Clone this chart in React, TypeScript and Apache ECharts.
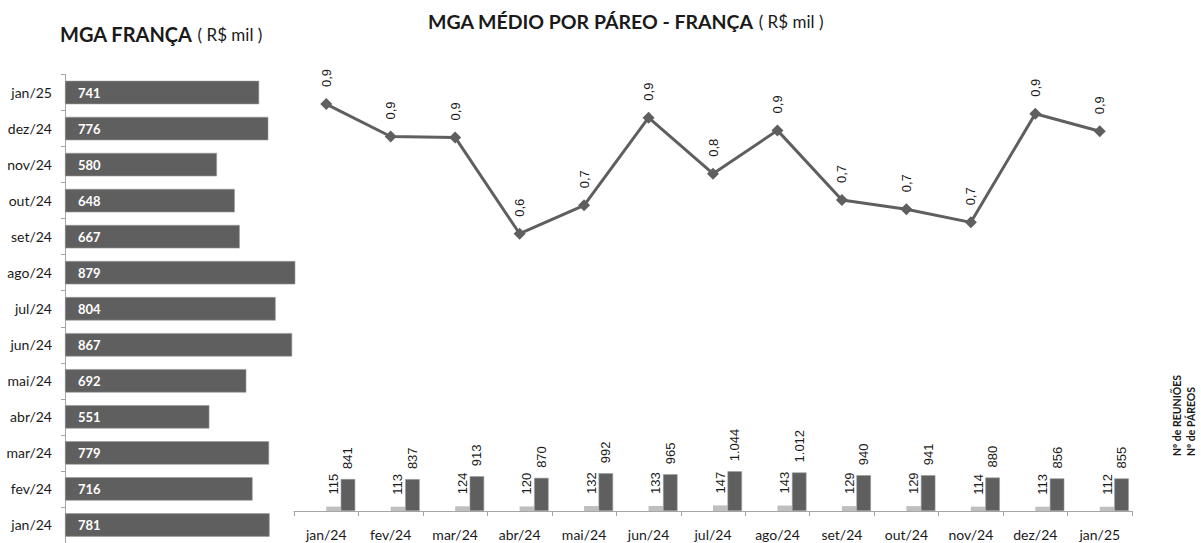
import React, { useEffect, useRef } from "react";
import * as echarts from "echarts";

const months = ["jan/24", "fev/24", "mar/24", "abr/24", "mai/24", "jun/24", "jul/24", "ago/24", "set/24", "out/24", "nov/24", "dez/24", "jan/25"];
const mgaTotal = [781, 716, 779, 551, 692, 867, 804, 879, 667, 648, 580, 776, 741];
const mgaMedio = [0.929, 0.855, 0.853, 0.633, 0.698, 0.898, 0.77, 0.869, 0.71, 0.689, 0.659, 0.907, 0.867];
const reunioes = [115, 113, 124, 120, 132, 133, 147, 143, 129, 129, 114, 113, 112];
const pareos = [841, 837, 913, 870, 992, 965, 1044, 1012, 940, 941, 880, 856, 855];

const FONT = "Lato";
const DARK = "#5f5f5f";
const LIGHT = "#bfbfbf";
const TXT = "#1a1a1a";

const fmtThousands = (v: number) => String(v).replace(/\B(?=(\d{3})+(?!\d))/g, ".");

export default function App() {
  const ref = useRef<HTMLDivElement>(null);
  useEffect(() => {
    if (!ref.current) return;
    const chart = echarts.init(ref.current, undefined, { renderer: "svg" });
    const option: any = {
      animation: false,
      backgroundColor: "#ffffff",
      title: [
        {
          text: "{b|MGA FRANÇA} {n|( R$ mil )}",
          left: 60,
          top: 24,
          padding: 0,
          textStyle: {
            fontWeight: "normal",
            rich: {
              b: { fontFamily: FONT, fontWeight: "bold", fontSize: 20, color: TXT },
              n: { fontFamily: FONT, fontWeight: "normal", fontSize: 17, color: TXT },
            },
          },
        },
        {
          text: "{b|MGA MÉDIO POR PÁREO - FRANÇA} {n|( R$ mil )}",
          left: 428,
          top: 11,
          padding: 0,
          textStyle: {
            fontWeight: "normal",
            rich: {
              b: { fontFamily: FONT, fontWeight: "bold", fontSize: 19.5, color: TXT },
              n: { fontFamily: FONT, fontWeight: "normal", fontSize: 17, color: TXT },
            },
          },
        },
      ],
      grid: [
        { left: 65, top: 74.5, width: 262, bottom: -5 },
        { left: 294, width: 838, top: 73, bottom: 32 },
        { left: 308.5, width: 838, top: 73, bottom: 32 },
      ],
      xAxis: [
        { gridIndex: 0, type: "value", min: 0, max: 1000, show: false },
        {
          gridIndex: 1,
          type: "category",
          data: months,
          offset: 7,
          axisLine: { lineStyle: { color: "#a6a6a6" } },
          axisTick: { show: true, length: 5, lineStyle: { color: "#a6a6a6" } },
          axisLabel: { fontFamily: FONT, fontSize: 14, color: TXT, margin: 9 },
        },
        { gridIndex: 2, type: "category", data: months, show: false },
      ],
      yAxis: [
        {
          gridIndex: 0,
          type: "category",
          data: months,
          axisLine: { lineStyle: { color: "#a6a6a6" } },
          axisTick: { show: true, length: 4, lineStyle: { color: "#a6a6a6" } },
          axisLabel: { fontFamily: FONT, fontSize: 14, color: TXT, margin: 13 },
        },
        { gridIndex: 1, type: "value", min: 0, max: 1, show: false },
        { gridIndex: 2, type: "value", min: 0, max: 11500, show: false },
      ],
      graphic: [
        {
          type: "text",
          x: 1177,
          y: 456,
          rotation: Math.PI / 2,
          style: { text: "Nº de REUNIÕES", font: `bold 10.5px ${FONT}`, fill: TXT, align: "left", verticalAlign: "middle" },
        },
        {
          type: "text",
          x: 1191,
          y: 456,
          rotation: Math.PI / 2,
          style: { text: "Nº de PÁREOS", font: `bold 10.5px ${FONT}`, fill: TXT, align: "left", verticalAlign: "middle" },
        },
      ],
      series: [
        {
          type: "bar",
          name: "MGA",
          xAxisIndex: 0,
          yAxisIndex: 0,
          data: mgaTotal,
          barCategoryGap: "35%",
          itemStyle: { color: DARK, borderColor: "#9a9a9a", borderWidth: 0.6 },
          label: {
            show: true,
            position: "insideLeft",
            distance: 13,
            color: "#ffffff",
            fontFamily: FONT,
            fontWeight: "bold",
            fontSize: 13,
          },
        },
        {
          type: "line",
          name: "MGA médio",
          xAxisIndex: 1,
          yAxisIndex: 1,
          data: mgaMedio,
          symbol: "diamond",
          symbolSize: 12,
          lineStyle: { color: DARK, width: 3 },
          itemStyle: { color: DARK },
          label: {
            show: true,
            position: "top",
            rotate: 90,
            align: "left",
            verticalAlign: "middle",
            distance: 11,
            color: TXT,
            fontFamily: "Liberation Sans",
            fontSize: 13,
            formatter: (p: any) => p.value.toFixed(1).replace(".", ","),
          },
        },
        {
          type: "bar",
          name: "Nº de REUNIÕES",
          xAxisIndex: 2,
          yAxisIndex: 2,
          data: reunioes,
          barWidth: 14.5,
          barGap: "0%",
          itemStyle: { color: LIGHT },
          label: {
            show: true,
            position: "top",
            rotate: 90,
            align: "left",
            verticalAlign: "middle",
            distance: 12,
            color: TXT,
            fontFamily: "Liberation Sans",
            fontSize: 13,
          },
        },
        {
          type: "bar",
          name: "Nº de PÁREOS",
          xAxisIndex: 2,
          yAxisIndex: 2,
          data: pareos,
          barWidth: 14.5,
          barGap: "0%",
          itemStyle: { color: DARK, borderColor: "#9a9a9a", borderWidth: 0.6 },
          label: {
            show: true,
            position: "top",
            rotate: 90,
            align: "left",
            verticalAlign: "middle",
            distance: 10,
            color: TXT,
            fontFamily: "Liberation Sans",
            fontSize: 13,
            formatter: (p: any) => fmtThousands(p.value),
          },
        },
      ],
    };
    chart.setOption(option);
    return () => chart.dispose();
  }, []);
  return (
    <div
      ref={ref}
      style={{ position: "absolute", left: 0, top: 0, width: 1201, height: 543, overflow: "hidden", background: "#fff" }}
    />
  );
}
